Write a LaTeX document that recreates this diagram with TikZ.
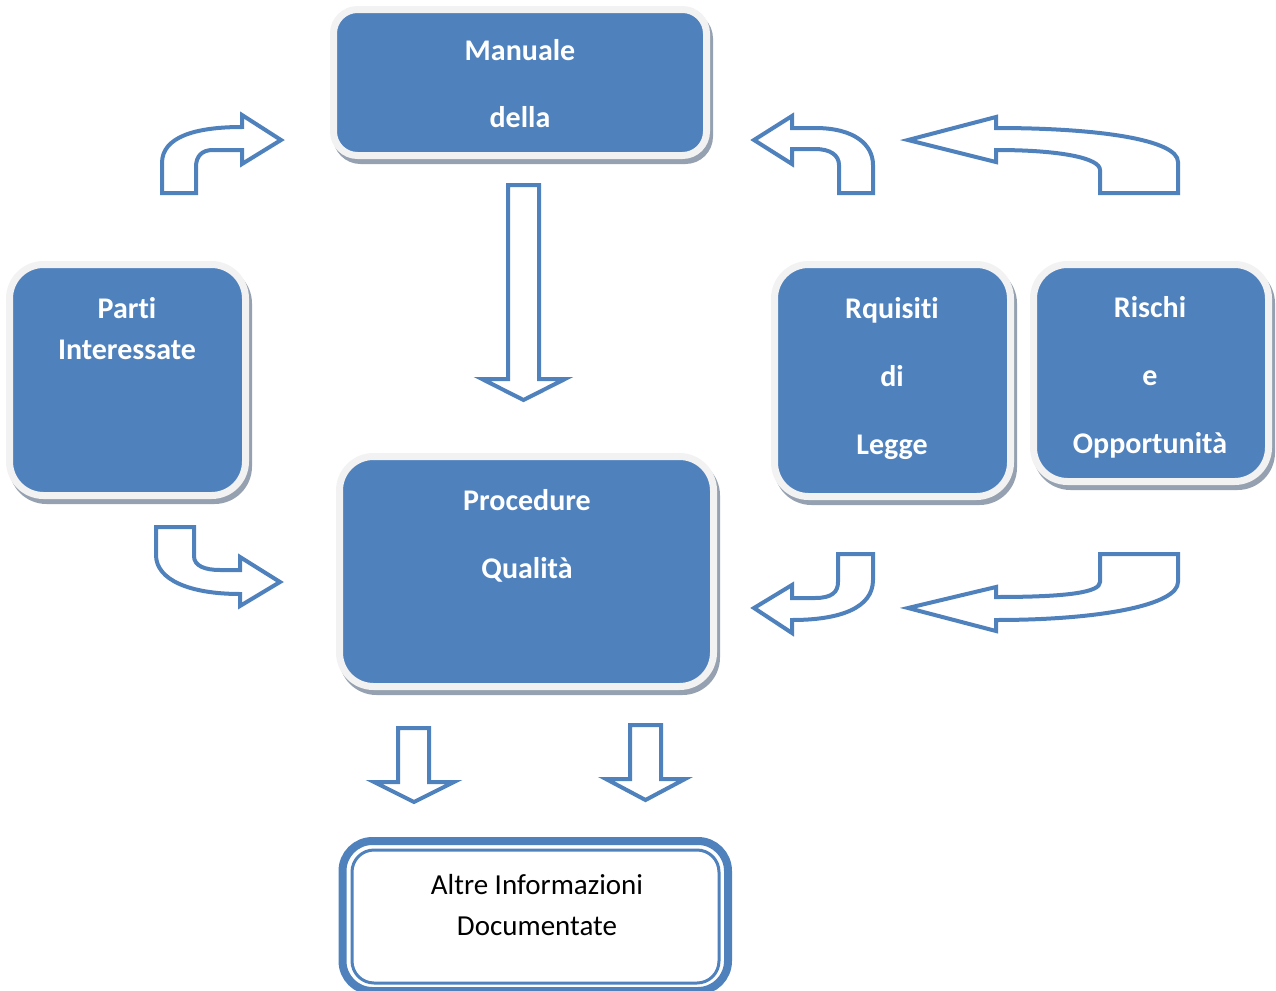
\documentclass[tikz,border=0pt]{standalone}
\usepackage{fontspec}
\setmainfont{Carlito}[RawFeature={-liga;-clig;-calt}]
\newcommand{\nolig}{\kern0pt\relax}
\definecolor{cardblue}{HTML}{4F81BD}
\definecolor{cardrim}{HTML}{F2F2F2}
\definecolor{cardshade}{HTML}{95A1B0}
\definecolor{arrowblue}{HTML}{4F81BD}
\begin{document}
\begin{tikzpicture}[x=0.5pt,y=-0.5pt,
  card/.style={rounded corners=#1, fill=cardblue, draw=cardrim, line width=3.5pt,
    inner sep=0pt,
    preaction={fill=cardshade, draw=cardshade,
      transform canvas={xshift=1.5pt,yshift=-2.5pt}}},
  card/.default=17pt,
  lbl/.style={text=white, font=\bfseries\fontsize{15}{18}\selectfont, anchor=base, inner sep=0pt},
  plain/.style={text=black, font=\fontsize{14.5}{18}\selectfont, anchor=base, inner sep=0pt},
  blockarrow/.style={draw=arrowblue, fill=white, line width=2pt, line join=miter}]
\useasboundingbox (0,0) rectangle (1276,991);

% cards
\node[card=12pt, minimum width=186.5pt, minimum height=73pt] (manuale) at (520,82.5) {};
\node[card, minimum width=118pt, minimum height=115.5pt] (parti) at (127.5,380) {};
\node[card, minimum width=118pt, minimum height=116pt] (requisiti) at (892.5,380.5) {};
\node[card, minimum width=117.5pt, minimum height=108.5pt] (rischi) at (1151,373) {};
\node[card, minimum width=187pt, minimum height=115pt] (procedure) at (526.5,571.5) {};

% card texts
\node[lbl] (man1) at (520,60) {Manuale};
\node[lbl] (man2) at (520,127) {della};
\node[lbl] (par1) at (127,318) {Part\nolig i};
\node[lbl] (par2) at (127,359) {Interessate};
\node[lbl] (req1) at (892,318) {Rquisit\nolig i};
\node[lbl] (req2) at (892,386) {di};
\node[lbl] (req3) at (892,454) {Legge};
\node[lbl] (ris1) at (1150,317) {Rischi};
\node[lbl] (ris2) at (1150,385) {e};
\node[lbl] (ris3) at (1150,453) {Opportunità};
\node[lbl] (pro1) at (527,510) {Procedure};
\node[lbl] (pro2) at (527,578) {Qualità};

% documented information box: thick-thin frame
\node[draw=arrowblue, fill=white, line width=4pt, rounded corners=15pt,
  minimum width=192.75pt, minimum height=75pt, inner sep=0pt] (docs) at (535.25,916) {};
\node[draw=arrowblue, line width=1.5pt, rounded corners=11pt,
  minimum width=183.5pt, minimum height=66.5pt, inner sep=0pt] (docsin) at (535.5,916.5) {};
\node[plain] (doc1) at (537,894) {Altre Informazioni};
\node[plain] (doc2) at (537,935) {Documentate};

% straight block arrows
\draw[blockarrow] (508,185) -- (539,185) -- (539,379) -- (565,379) -- (523.5,400)
  -- (482,379) -- (508,379) -- cycle;
\draw[blockarrow] (398,728) -- (429,728) -- (429,782) -- (454,782) -- (414,802)
  -- (374,782) -- (398,782) -- cycle;
\draw[blockarrow] (630,725) -- (661,725) -- (661,779) -- (685,779) -- (645.5,800)
  -- (606,779) -- (630,779) -- cycle;

% bent block arrows, upper row
\draw[blockarrow] (162,193) -- (162,163) .. controls (162,137) and (195,127) .. (242,127)
  -- (242,115) -- (281,140) -- (242,164) -- (242,150) -- (213,150)
  .. controls (202,150) and (196,156) .. (196,167) -- (196,193) -- cycle;
\draw[blockarrow] (754,140) -- (792,116) -- (792,128) -- (815,128)
  .. controls (855,128) and (873,145) .. (873,165) -- (873,193) -- (839,193) -- (839,165)
  .. controls (839,155) and (830,149) .. (815,149) -- (792,149) -- (792,164) -- cycle;
\draw[blockarrow] (908,140) -- (996,117) -- (996,128)
  .. controls (1100,128) and (1178,140) .. (1178,162) -- (1178,193) -- (1100,193)
  -- (1100,170) .. controls (1100,158) and (1060,150) .. (996,150) -- (996,162) -- cycle;

% bent block arrows, lower row
\draw[blockarrow] (156,527) -- (194,527) -- (194,556) .. controls (194,566) and (205,570) .. (220,570)
  -- (240,570) -- (240,557) -- (280,582) -- (240,606) -- (240,594)
  .. controls (190,594) and (156,580) .. (156,555) -- cycle;
\draw[blockarrow] (754,608) -- (792,585) -- (792,598) -- (815,598)
  .. controls (832,598) and (838,592) .. (838,582) -- (838,554) -- (873,554) -- (873,580)
  .. controls (873,608) and (840,620) .. (792,620) -- (792,633) -- cycle;
\draw[blockarrow] (908,608) -- (996,587) -- (996,597)
  .. controls (1070,597) and (1100,592) .. (1100,582) -- (1100,554) -- (1178,554) -- (1178,582)
  .. controls (1178,605) and (1100,620) .. (996,620) -- (996,631) -- cycle;
\end{tikzpicture}
\end{document}
